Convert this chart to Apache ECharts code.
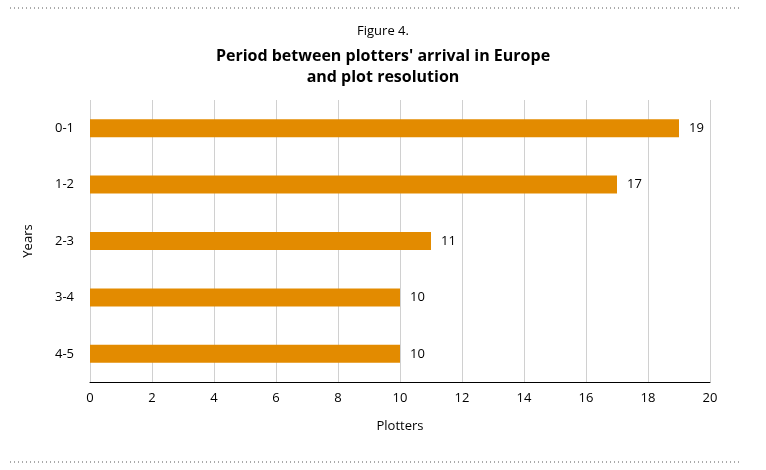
<!DOCTYPE html>
<html lang="en">
<head>
  <meta charset="utf-8">
  <title>Figure 4</title>
  <script src="https://cdn.jsdelivr.net/npm/echarts@6/dist/echarts.min.js"></script>
  <style>body{margin:0;background:#fff}#chart1{width:766px;height:470px}</style>
</head>
<body>
<div id="chart1"></div>
<script>
  var categories = ['0-1', '1-2', '2-3', '3-4', '4-5'];
  var plotters = [19, 17, 11, 10, 10];

  var chart1 = echarts.init(document.getElementById('chart1'));
  var font = '"Open Sans", "Noto Sans", sans-serif';

  var option = {
    textStyle: { fontFamily: font },
    title: [
      { text: 'Figure 4.', left: 'center', top: 20,
        textStyle: { fontSize: 13, fontWeight: 'normal', color: '#000', fontFamily: font } },
      { text: "Period between plotters' arrival in Europe\nand plot resolution", left: 'center', top: 41,
        textStyle: { fontSize: 16, fontWeight: 'bold', color: '#000', lineHeight: 21, fontFamily: font } }
    ],
    graphic: [
      { type: 'line', shape: { x1: 10, y1: 8, x2: 740, y2: 8 },
        style: { stroke: '#555', lineWidth: 1, lineDash: [1, 3] } },
      { type: 'line', shape: { x1: 10, y1: 462, x2: 740, y2: 462 },
        style: { stroke: '#555', lineWidth: 1, lineDash: [1, 3] } }
    ],
    grid: { left: 90, right: 56, top: 100, bottom: 88 },
    xAxis: {
      type: 'value', min: 0, max: 20, interval: 2,
      name: 'Plotters', nameLocation: 'middle', nameGap: 38,
      nameTextStyle: { fontSize: 13, color: '#000' },
      axisLine: { show: true, lineStyle: { color: '#000' } },
      axisTick: { show: false },
      axisLabel: { fontSize: 13, color: '#000', margin: 10 },
      splitLine: { lineStyle: { color: '#d0d0d0' } }
    },
    yAxis: {
      type: 'category', data: categories, inverse: true,
      name: 'Years', nameLocation: 'middle', nameGap: 55,
      nameTextStyle: { fontSize: 13, color: '#000' },
      axisLine: { show: false }, axisTick: { show: false },
      axisLabel: { fontSize: 13, color: '#000', margin: 16 }
    },
    series: [{
      type: 'bar', data: plotters, barWidth: 18,
      itemStyle: { color: '#e38b00' },
      label: { show: true, position: 'right', distance: 10, fontSize: 13, color: '#000' }
    }]
  };
  chart1.setOption(option);
</script>
</body>
</html>
